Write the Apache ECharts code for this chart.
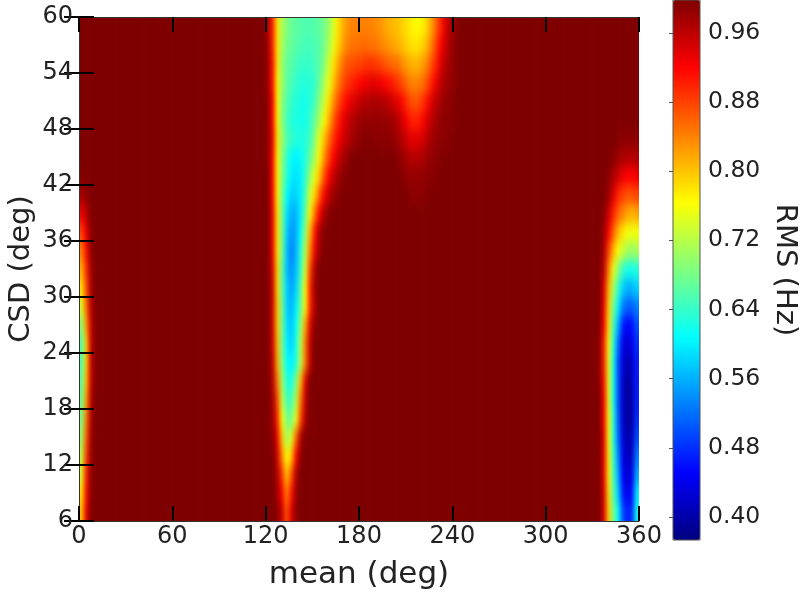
<!DOCTYPE html>
<html><head><meta charset="utf-8">
<style>html,body{margin:0;padding:0;background:#fff}#c{width:800px;height:602px}</style>
<script src="https://cdn.jsdelivr.net/npm/echarts@6/dist/echarts.min.js"></script>
</head><body>
<svg width="0" height="0" style="position:absolute"><filter id="soften" x="0" y="0" width="100%" height="100%" color-interpolation-filters="sRGB"><feGaussianBlur stdDeviation="2 6"/></filter></svg>
<div id="c"></div>
<script>
// Cell centres
const csdRows = [7,9,11,13,15,17,19,21,23,25,27,29,31,33,35,37,39,41,43,45,47,49,51,53,55,57,59];
const colStep = 3, rowStep = 2, saturated = 1;
const leftStart = 1.5, midStart = 121.5, rightStart = 334.5;
const leftBand = [
[.80,.93,.995],[.78,.91,.99],[.74,.90,.985],[.72,.88,.98],[.70,.86,.975],[.68,.84,.97],[.67,.82,.96],
[.66,.80,.95,.995],[.65,.79,.95,.995],[.65,.79,.95,.995],[.69,.82,.95,.995],[.74,.85,.96,.995],[.78,.87,.97],
[.81,.89,.975],[.84,.91,.985],[.88,.93,.99],[.93,.96,.995],[.975,.985],[.995],[],[],[],[],[],[],[],[]
];
const midBand = [
[1,1,.99,.95,.87,.94,.99],
[1,1,.98,.92,.84,.91,.98],
[1,1,.97,.89,.80,.87,.97],
[1,1,.95,.84,.76,.80,.92,.99],
[1,.99,.93,.80,.71,.74,.86,.97],
[1,.98,.90,.76,.68,.68,.75,.88,.97],
[1,.98,.88,.73,.65,.65,.72,.85,.96],
[1,.97,.85,.71,.63,.62,.69,.81,.94],
[1,.96,.82,.69,.61,.60,.63,.72,.85,.96],
[1,.95,.81,.68,.60,.58,.62,.72,.85,.96],
[1,.95,.80,.68,.59,.57,.61,.70,.82,.94,.99],
[1,.95,.80,.68,.58,.56,.60,.67,.77,.90,.97],
[1,.95,.79,.67,.58,.55,.58,.66,.77,.90,.98],
[1,.94,.79,.67,.57,.54,.57,.64,.74,.88,.97],
[1,.93,.78,.68,.57,.53,.56,.63,.72,.84,.93,.98],
[1,.93,.78,.68,.58,.54,.56,.61,.70,.81,.91,.97,.995],
[1,.93,.78,.68,.59,.56,.56,.60,.67,.77,.85,.92,.97,.99],
[.995,.92,.77,.68,.61,.58,.58,.60,.65,.74,.79,.86,.92,.96,.98,.99,1,1,1,1,1,1,1,1,1,1,1,1,1,1,.995,.99,.99,.99,.995],
[.995,.92,.77,.69,.63,.60,.59,.60,.64,.70,.75,.80,.87,.92,.955,.975,.99,.995,1,1,1,1,1,1,1,1,1,1,1,.99,.985,.985,.985,.985,.99,.99,.995],
[.99,.92,.77,.69,.64,.61,.60,.61,.63,.67,.71,.77,.83,.88,.92,.95,.97,.985,.995,1,1,1,1,1,1,1,1,1,.99,.98,.97,.965,.965,.97,.98,.985,.99,.995],
[.99,.93,.78,.70,.66,.64,.63,.625,.63,.645,.69,.75,.80,.85,.89,.92,.945,.96,.975,.985,.99,.995,.995,.99,.99,.99,.99,.985,.975,.96,.945,.935,.935,.945,.96,.975,.985,.99,.99,.995],
[.99,.92,.77,.69,.65,.63,.625,.62,.62,.64,.67,.71,.76,.81,.86,.90,.93,.95,.965,.975,.98,.985,.985,.985,.985,.985,.98,.975,.96,.94,.915,.90,.90,.915,.94,.96,.975,.985,.99,.99,.995],
[.99,.92,.77,.69,.66,.64,.63,.62,.62,.63,.65,.69,.73,.78,.83,.87,.90,.92,.94,.95,.96,.965,.97,.97,.97,.965,.955,.945,.93,.91,.885,.87,.87,.885,.91,.94,.96,.975,.985,.99,.995],
[.98,.91,.77,.70,.67,.65,.64,.63,.63,.63,.64,.67,.71,.75,.80,.84,.87,.89,.90,.91,.92,.93,.935,.935,.93,.92,.91,.90,.885,.87,.85,.84,.84,.85,.87,.90,.93,.96,.975,.985,.99],
[.98,.91,.78,.70,.67,.66,.65,.64,.64,.64,.65,.66,.69,.73,.78,.82,.85,.87,.87,.88,.88,.89,.89,.885,.88,.87,.86,.855,.85,.83,.82,.81,.81,.82,.84,.87,.90,.94,.965,.98,.99],
[.98,.90,.78,.71,.68,.67,.66,.655,.65,.65,.655,.66,.68,.71,.75,.79,.82,.84,.85,.85,.855,.855,.85,.85,.84,.835,.825,.82,.81,.80,.79,.78,.78,.79,.81,.84,.88,.92,.95,.975,.99],
[.97,.90,.78,.71,.69,.67,.665,.66,.655,.655,.66,.665,.68,.70,.74,.78,.81,.83,.84,.84,.84,.84,.84,.835,.83,.82,.81,.805,.80,.79,.78,.77,.765,.77,.79,.82,.86,.90,.94,.97,.985]
];
const rightBand = [
[1,.94,.79,.68,.61,.50,.47,.48,.62],
[1,.94,.78,.66,.58,.47,.44,.46,.60],
[1,.93,.77,.65,.56,.45,.42,.44,.56],
[1,.93,.77,.64,.54,.44,.41,.42,.53],
[1,.93,.76,.63,.52,.43,.40,.41,.50],
[1,.92,.76,.63,.51,.42,.39,.40,.48],
[1,.92,.75,.62,.50,.42,.39,.40,.47],
[.99,.91,.75,.62,.50,.42,.39,.41,.47],
[.99,.90,.75,.62,.50,.43,.40,.42,.47],
[.99,.90,.76,.63,.52,.44,.42,.44,.48],
[1,.92,.78,.65,.56,.47,.45,.46,.50],
[1,.93,.79,.68,.60,.53,.51,.51,.53],
[1,.94,.81,.71,.64,.58,.56,.56,.58],
[1,.96,.84,.75,.69,.64,.62,.62,.63],
[1,.97,.88,.81,.76,.73,.71,.70,.71],
[1,.98,.92,.86,.81,.78,.76,.75,.76],
[1,.99,.95,.90,.86,.84,.82,.81,.82],
[1,1,.98,.94,.90,.88,.87,.87,.88],
[1,1,.99,.97,.95,.93,.92,.92,.93],
[1,1,1,.99,.98,.97,.965,.965,.97],
[1,1,1,1,.995,.99,.99,.99,.99],
[],[],[],[],[],[]
];
const colorTicks = [0.40,0.48,0.56,0.64,0.72,0.80,0.88,0.96];
const colorMin = 0.3734, colorMax = 0.998;
const jet = ['#00007f','#0000ff','#007fff','#00ffff','#7fff7f','#ffff00','#ff7f00','#ff0000','#7f0000'];

const cells = [];
csdRows.forEach((csd, r) => {
  for (let mean = 1.5; mean < 360; mean += colStep) {
    let v = saturated;
    const pick = (band, start) => {
      const k = Math.round((mean - start) / colStep);
      if (k >= 0 && k < band[r].length) v = band[r][k];
    };
    pick(leftBand, leftStart); pick(midBand, midStart); pick(rightBand, rightStart);
    cells.push([mean, csd, v]);
  }
});

const textColor = '#222';
const tickStyle = {show:true, inside:true, length:15, lineStyle:{color:'#000', width:2}};
const baseAxis = {
  zlevel:1, axisLine:{show:true, lineStyle:{color:'#333', width:1}}, splitLine:{show:false},
  axisTick:tickStyle, nameTextStyle:{color:textColor, fontFamily:'DejaVu Sans', fontSize:29},
  axisLabel:{color:textColor, fontFamily:'DejaVu Sans', fontSize:24}
};
const chart = echarts.init(document.getElementById('c'), null, {renderer:'canvas'});
chart.setOption({
  animation:false, backgroundColor:'transparent',
  grid:[
    {left:79, top:17, width:560, height:504, show:false, outerBoundsMode:'none'},
    {left:673, top:0, width:27, height:540, show:true, borderColor:'#555', borderWidth:1, backgroundColor:'transparent', z:10, zlevel:1, outerBoundsMode:'none'}
  ],
  xAxis:[
    {...baseAxis, gridIndex:0, type:'value', min:0, max:360, interval:60, name:'mean (deg)', nameLocation:'middle', nameGap:38,
      nameTextStyle:{...baseAxis.nameTextStyle, fontSize:31}, axisLabel:{...baseAxis.axisLabel, margin:4}, z:5},
    {...baseAxis, gridIndex:0, type:'value', position:'top', min:0, max:360, interval:60, axisLabel:{show:false}, z:5},
    {gridIndex:1, type:'value', min:0, max:1, show:false}
  ],
  yAxis:[
    {...baseAxis, gridIndex:0, type:'value', min:6, max:60, interval:6, name:'CSD (deg)', nameLocation:'middle', nameGap:43, nameMoveOverlap:false,
      axisLabel:{...baseAxis.axisLabel, margin:6}, z:5},
    {...baseAxis, gridIndex:0, type:'value', position:'right', min:6, max:60, interval:6, axisLabel:{show:false}, z:5},
    {gridIndex:1, type:'value', position:'right', min:colorMin, max:colorMax, name:'RMS (Hz)', nameLocation:'middle', nameGap:70, nameRotate:-90, nameMoveOverlap:false, zlevel:1,
      nameTextStyle:{color:textColor, fontFamily:'DejaVu Sans', fontSize:29},
      axisLine:{show:false}, splitLine:{show:false},
      axisTick:{show:true, inside:true, length:4, lineStyle:{color:'#555', width:1}, customValues:colorTicks},
      axisLabel:{color:textColor, fontFamily:'DejaVu Sans', fontSize:23.5, margin:8, customValues:colorTicks, formatter:v=>v.toFixed(2)}, z:10}
  ],
  visualMap:{type:'continuous', seriesIndex:0, dimension:2, min:colorMin, max:colorMax, left:673, top:0, padding:0,
    itemWidth:27, itemHeight:540, calculable:false, text:null, showLabel:false, hoverLink:false, inRange:{color:jet},
    textStyle:{fontSize:0}, z:4, zlevel:1},
  series:[{
    type:'custom', xAxisIndex:0, yAxisIndex:0, coordinateSystem:'cartesian2d', silent:true, data:cells, encode:{x:0,y:1}, clip:false, z:1, zlevel:0,
    renderItem:(params, api) => {
      const x = api.value(0), y = api.value(1);
      const a = api.coord([x - colStep/2, y + rowStep/2]);
      const b = api.coord([x + colStep/2, y - rowStep/2]);
      // border cells run on past the frame so the softening does not fade at the edges (the frame crops them)
      const padL = x - colStep/2 <= 0 ? 20 : 0, padR = x + colStep/2 >= 360 ? 20 : 0;
      const padT = y + rowStep/2 >= 60 ? 17 : 0, padB = y - rowStep/2 <= 6 ? 40 : 0;
      return {type:'rect', shape:{x:a[0]-padL, y:a[1]-padT, width:b[0]-a[0]+0.6+padL+padR, height:b[1]-a[1]+0.6+padT+padB},
        style:{fill:api.visual('color')}};
    }
  }]
});
// soften the cell layer (the bottom canvas) and crop it to the plot frame
const cellLayer = document.querySelectorAll('#c canvas')[0];
cellLayer.style.filter = 'url(#soften)';
cellLayer.style.clipPath = 'inset(17px 161px 81px 79px)';
</script></body></html>
